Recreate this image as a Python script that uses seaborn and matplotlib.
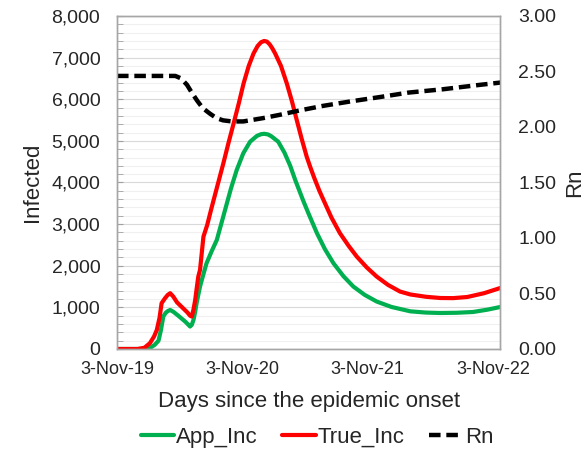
import numpy as np
import pandas as pd
import seaborn as sns
import matplotlib
matplotlib.use("Agg")
import matplotlib.pyplot as plt
from matplotlib.ticker import MultipleLocator, StrMethodFormatter

##----------- Data ------------------------------------##
# days since 3-Nov-19
true_days = [0, 60, 80, 96, 108, 116, 124, 130, 140, 148, 155, 164, 175, 190, 205, 213, 218,
             223, 228, 233, 237, 242, 247, 252, 263, 274, 292, 310, 325, 340, 355, 369, 384,
             398, 410, 420, 429, 437, 445, 453, 461, 478, 495, 510, 524, 538, 553, 563, 575,
             590, 602, 625, 650, 675, 699, 728, 757, 790, 825, 855, 900, 942, 980, 1021, 1070, 1117]
true_inc = [0, 0, 30, 140, 300, 456, 750, 1100, 1220, 1300, 1340, 1260, 1120, 1000, 880, 800, 780,
            950, 1180, 1500, 1740, 1900, 2300, 2700, 2980, 3339, 3900, 4460, 4950, 5420, 5900, 6380, 6800,
            7100, 7280, 7370, 7400, 7385, 7320, 7220, 7100, 6800, 6380, 5950, 5500, 5060, 4620, 4380, 4110,
            3800, 3579, 3160, 2780, 2480, 2220, 1960, 1740, 1540, 1380, 1310, 1255, 1225, 1222, 1249, 1340, 1465]

app_days = [0, 75, 95, 110, 121, 128, 135, 142, 148, 155, 165, 180, 200, 213, 218, 223, 228, 232,
            237, 242, 252, 261, 276, 291, 303, 315, 332, 349, 368, 388, 408, 420, 429, 440, 450,
            470, 488, 505, 520, 543, 558, 583, 606, 631, 660, 689, 722, 757, 800, 855, 900, 942,
            990, 1038, 1080, 1117]
app_inc = [0, 0, 20, 100, 200, 450, 780, 870, 910, 937, 890, 790, 650, 540, 580, 700, 900, 1100,
           1300, 1500, 1800, 2060, 2350, 2620, 2980, 3339, 3850, 4300, 4700, 4980, 5120, 5160, 5170, 5155, 5110,
           4980, 4720, 4400, 4050, 3560, 3260, 2780, 2400, 2060, 1750, 1500, 1300, 1140, 1010, 905, 875, 865,
           870, 889, 945, 1009]

rn_days = [0, 170, 185, 195, 204, 218, 233, 250, 271, 290, 309, 335, 368, 426, 475, 534, 600,
           680, 767, 850, 950, 1059, 1117]
rn = [2.46, 2.46, 2.44, 2.41, 2.38, 2.31, 2.24, 2.17, 2.12, 2.08, 2.06, 2.05, 2.05, 2.08, 2.11, 2.15, 2.19,
      2.23, 2.27, 2.31, 2.34, 2.38, 2.40]

xtick_days = [0, 366, 731, 1096]
xtick_labels = ["3-Nov-19", "3-Nov-20", "3-Nov-21", "3-Nov-22"]

##----------- Plot --------------##
sns.set_style("white")
plt.rcParams['font.family'] = ['Liberation Sans', 'DejaVu Sans']

fig = plt.figure(figsize=(5.85, 4.53), dpi=100)
ax = fig.add_axes([0.2, 0.2296, 0.655, 0.7351])
ax2 = ax.twinx()

df_app = pd.DataFrame({'day': app_days, 'val': app_inc})
df_true = pd.DataFrame({'day': true_days, 'val': true_inc})
df_rn = pd.DataFrame({'day': rn_days, 'val': rn})

sns.lineplot(x='day', y='val', data=df_app, ax=ax, color='#00B050', linewidth=3, label='App_Inc', legend=False)
sns.lineplot(x='day', y='val', data=df_true, ax=ax, color='#FF0000', linewidth=3, label='True_Inc', legend=False)
sns.lineplot(x='day', y='val', data=df_rn, ax=ax2, color='black', linewidth=3.2, label='Rn', legend=False,
             linestyle=(0, (2.6, 1.3)))

ax.set_xlim(0, 1117)
ax.set_ylim(0, 8000)
ax2.set_ylim(0, 3)
ax.set_xticks(xtick_days)
ax.set_xticklabels(xtick_labels)
ax.yaxis.set_major_locator(MultipleLocator(1000))
ax.yaxis.set_minor_locator(MultipleLocator(200))
ax.yaxis.set_major_formatter(StrMethodFormatter('{x:,.0f}'))
ax2.yaxis.set_major_locator(MultipleLocator(0.5))
ax2.yaxis.set_major_formatter(StrMethodFormatter('{x:.2f}'))

ax.grid(which='major', axis='y', color='#D9D9D9', linewidth=0.8)
ax.grid(which='minor', axis='y', color='#F0F0F0', linewidth=0.8)
ax.grid(which='major', axis='x', visible=False)
ax.set_axisbelow(True)

ax.tick_params(axis='y', which='both', direction='in', length=4, color='#A0A0A0',
               labelsize=14, pad=12, left=True)
ax.tick_params(axis='x', length=0, labelsize=13, pad=9)
ax2.tick_params(axis='y', length=0, labelsize=14, pad=13)

for a in (ax, ax2):
    for s in a.spines.values():
        s.set_color('#A6A6A6')
        s.set_linewidth(1.0)

ax.set_xlabel('Days since the epidemic onset', fontsize=16, labelpad=9)
ax.set_ylabel('Infected', fontsize=16, labelpad=6)
ax2.set_ylabel('Rn', fontsize=16, labelpad=6)

h1, l1 = ax.get_legend_handles_labels()
h2, l2 = ax2.get_legend_handles_labels()
fig.legend(h1 + h2, l1 + l2, loc='center', bbox_to_anchor=(0.542, 0.035), ncol=3,
           frameon=False, fontsize=16, handlelength=1.5, handletextpad=0.1, columnspacing=1.1)

plt.savefig('out.png', dpi=100)
plt.close()
